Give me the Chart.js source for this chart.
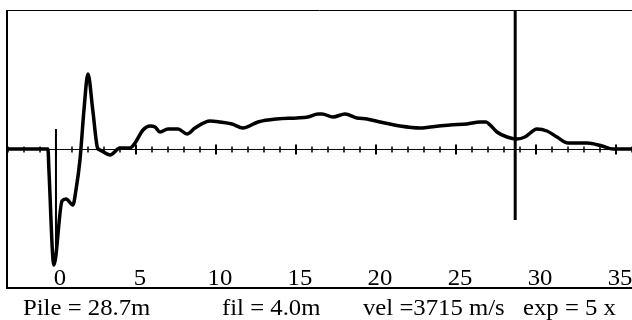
<!DOCTYPE html>
<html>
<head>
<meta charset="utf-8">
<script src="https://cdn.jsdelivr.net/npm/chart.js@4/dist/chart.umd.min.js"></script>
<style>
  html, body { margin: 0; padding: 0; background: #fff; }
  #wrap { position: relative; width: 632px; height: 320px; overflow: hidden; }
  #chart { position: absolute; left: 0; top: 0; }
  .foot { position: absolute; top: 296px; font: 23px "Liberation Serif", "Times New Roman", serif; line-height: 23px; color: #000; white-space: pre; transform: scaleX(1.075); transform-origin: 0 0; }
</style>
</head>
<body>
<div id="wrap">
  <canvas id="chart" width="632" height="320"></canvas>
  <span class="foot" style="left:23px">Pile = 28.7m</span>
  <span class="foot" style="left:222px">fil = 4.0m</span>
  <span class="foot" style="left:363px">vel =3715 m/s</span>
  <span class="foot" style="left:523px">exp = 5 x</span>
</div>
<script>
// Velocity trace (depth in m, amplitude in screen units)
const depth = [-3.06, -0.5, -0.44, -0.13, 0.38, 0.63, 1.06, 1.25, 1.5, 1.75, 2.0, 2.3, 2.6, 2.75,
  3.38, 4.0, 4.63, 4.94, 5.44, 5.88, 6.19, 6.5, 7.0, 7.63, 8.19, 8.69, 9.63, 10.25, 11.0, 11.69,
  12.63, 13.81, 15.06, 15.75, 16.38, 16.63, 17.31, 18.06, 18.81, 19.44, 20.25, 21.5, 22.75, 23.38,
  24.63, 25.69, 26.5, 26.88, 27.13, 27.56, 28.19, 28.81, 29.31, 30.06, 30.69, 31.31, 32.0, 33.19,
  34.13, 34.81, 36.0];
const velocity = [0, 0, -21, -116, -52, -50, -56, -41, -11, 39, 75, 39, 1, -1,
  -6, 1, 1, 6, 19, 23, 22, 17, 20, 20, 15, 21, 28, 27, 25, 21,
  27, 30, 31, 32, 35, 35, 32, 35, 31, 30, 27, 23, 21, 22,
  24, 25, 27, 27, 24, 17, 12, 10, 12, 20, 18, 12, 6, 6,
  3, 0, 0];

// Markers: pile head and pile toe
const markerX = [0, 28.7];
const markerTop = [20, 139];
const markerBottom = [-112, -71];

const tickLabels = ["0", "5", "10", "15", "20", "25", "30", "35"];
const tickValues = [0, 5, 10, 15, 20, 25, 30, 35];

const xMin = -3.06, xMax = 36, yMin = -139, yMax = 139;

const axisPlugin = {
  id: "pitAxis",
  beforeDatasetsDraw(chart) {
    const { ctx, chartArea: a, scales: { x, y } } = chart;
    const y0 = Math.round(y.getPixelForValue(0)) + 0.5;
    ctx.save();
    ctx.strokeStyle = "#000";
    ctx.lineWidth = 1;
    ctx.beginPath();
    ctx.moveTo(a.left, y0);
    ctx.lineTo(a.right, y0);
    ctx.stroke();
    // ticks every metre, longer every 5 m
    for (let v = Math.ceil(xMin); v <= Math.floor(xMax); v++) {
      const px = Math.round(x.getPixelForValue(v));
      const major = v % 5 === 0;
      const h = major ? 5 : 3;
      ctx.lineWidth = major ? 2 : 1.5;
      ctx.beginPath();
      ctx.moveTo(px, y0 - h);
      ctx.lineTo(px, y0 + h);
      ctx.stroke();
    }
    ctx.fillStyle = "#000";
    ctx.font = '23px "Liberation Serif", "Times New Roman", serif';
    ctx.textAlign = "center";
    ctx.textBaseline = "alphabetic";
    tickValues.forEach((v, i) => {
      const px = x.getPixelForValue(v) + 4;
      ctx.save();
      ctx.translate(px, a.bottom - 3);
      ctx.scale(1.075, 1);
      ctx.fillText(tickLabels[i], 0, 0);
      ctx.restore();
    });
    ctx.restore();
  },
  afterDraw(chart) {
    const { ctx, chartArea: a } = chart;
    ctx.save();
    ctx.strokeStyle = "#000";
    ctx.lineWidth = 1;
    ctx.beginPath();
    ctx.moveTo(a.left, a.top + 0.5);
    ctx.lineTo(a.right, a.top + 0.5);
    ctx.stroke();
    ctx.lineWidth = 2;
    ctx.beginPath();
    ctx.moveTo(a.left, a.top);
    ctx.lineTo(a.left, a.bottom + 1);
    ctx.moveTo(a.left, a.bottom);
    ctx.lineTo(a.right, a.bottom);
    ctx.stroke();
    ctx.restore();
  }
};

const markerSets = markerX.map((mx, i) => ({
  data: [{ x: mx, y: markerTop[i] }, { x: mx, y: markerBottom[i] }],
  borderColor: "#000",
  borderWidth: i === 0 ? 2 : 3,
  pointRadius: 0,
  borderCapStyle: "butt",
  tension: 0
}));

new Chart(document.getElementById("chart"), {
  type: "line",
  data: {
    datasets: [{
      data: depth.map((d, i) => ({ x: d, y: velocity[i] })),
      borderColor: "#000",
      borderWidth: 3.5,
      pointRadius: 0,
      cubicInterpolationMode: "monotone",
      borderJoinStyle: "round"
    }, ...markerSets]
  },
  options: {
    responsive: false,
    animation: false,
    devicePixelRatio: 1,
    layout: { padding: { left: 7, top: 10, right: 0, bottom: 32 } },
    plugins: { legend: { display: false }, tooltip: { enabled: false } },
    scales: {
      x: { type: "linear", min: xMin, max: xMax, display: false },
      y: { min: yMin, max: yMax, display: false }
    }
  },
  plugins: [axisPlugin]
});
</script>
</body>
</html>
